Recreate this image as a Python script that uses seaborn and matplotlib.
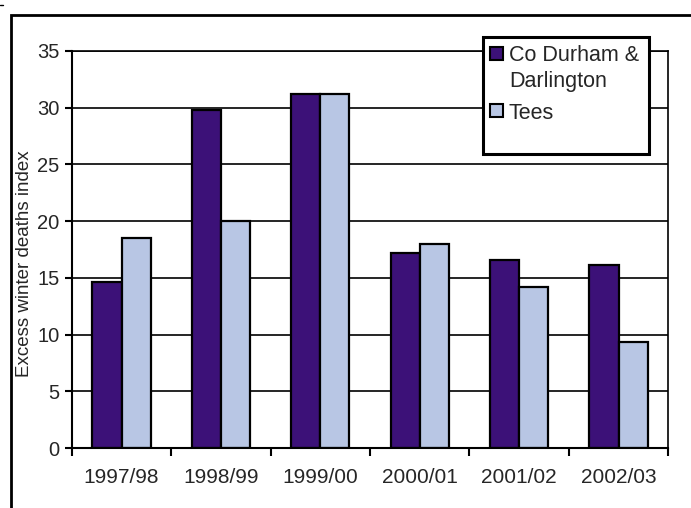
import matplotlib
matplotlib.use("Agg")
import matplotlib.pyplot as plt
from matplotlib.patches import Rectangle
from matplotlib.lines import Line2D
import seaborn as sns
import pandas as pd

seasons = ["1997/98", "1998/99", "1999/00", "2000/01", "2001/02", "2002/03"]
durham = [14.6, 29.8, 31.2, 17.2, 16.6, 16.1]
tees = [18.5, 20.0, 31.2, 18.0, 14.2, 9.3]
series_names = ["Co Durham &\nDarlington", "Tees"]
colors = ["#3C1178", "#B8C6E4"]

df = pd.DataFrame({
    "season": seasons * 2,
    "value": durham + tees,
    "area": [series_names[0]] * len(seasons) + [series_names[1]] * len(seasons),
})

sns.set_style("white")
plt.rcParams["font.family"] = ["Liberation Sans", "DejaVu Sans"]

fig = plt.figure(figsize=(6.91, 5.08), dpi=100)
ax = fig.add_axes([0.104, 0.118, 0.863, 0.782])

sns.barplot(data=df, x="season", y="value", hue="area", palette=colors,
            width=0.585, gap=0, edgecolor="black", linewidth=1.6,
            saturation=1, legend=False, ax=ax)

ax.set_ylim(0, 35)
ax.set_yticks(range(0, 36, 5))
ax.set_xlim(-0.5, len(seasons) - 0.5)
ax.yaxis.grid(True, color="black", linewidth=1.2)
ax.set_axisbelow(True)
for s in ax.spines.values():
    s.set_visible(True)
    s.set_color("black")
    s.set_linewidth(1.2)
ax.spines["left"].set_linewidth(1.5)
ax.spines["bottom"].set_linewidth(1.5)

# category ticks sit between groups, labels centred on groups
ax.set_xticks([i - 0.5 for i in range(len(seasons) + 1)], minor=False)
ax.set_xticklabels([""] * (len(seasons) + 1))
ax.set_xticks(range(len(seasons)), minor=True)
ax.set_xticklabels(seasons, minor=True)
ax.tick_params(axis="x", which="major", direction="out", length=6, width=1.5,
               color="black", bottom=True)
ax.tick_params(axis="x", which="minor", length=0, labelsize=15, pad=14)
ax.tick_params(axis="y", direction="out", length=5, width=1.5, color="black",
               left=True, labelsize=14.5, pad=4)
ax.set_xlabel("")
ax.set_ylabel("Excess winter deaths index", fontsize=13.5)
ax.yaxis.set_label_coords(-0.065, 0.463)

# legend: framed box with a swatch beside the first line of each entry
ax.add_patch(Rectangle((0.690, 0.741), 0.278, 0.294, transform=ax.transAxes,
                       facecolor="white", edgecolor="black", linewidth=2.2,
                       zorder=5, clip_on=False))
swatch_y = [0.977, 0.834]
line_y = [[0.975, 0.909], [0.829]]
for name, col, sy, ys in zip(series_names, colors, swatch_y, line_y):
    ax.add_patch(Rectangle((0.701, sy), 0.0218, 0.0327, transform=ax.transAxes,
                           facecolor=col, edgecolor="black", linewidth=1.5,
                           zorder=6, clip_on=False))
    for line, ty in zip(name.split("\n"), ys):
        ax.text(0.733, ty, line, transform=ax.transAxes, fontsize=15.5,
                va="baseline", ha="left", zorder=7)

# chart area border (open to the right and bottom edges)
fig.add_artist(Rectangle((0.016, -0.1), 1.1, 1.07, transform=fig.transFigure,
                         fill=False, edgecolor="black", linewidth=2))
fig.add_artist(Line2D([0.0, 0.005], [0.99, 0.99], transform=fig.transFigure,
                      color="black", linewidth=1))

fig.savefig("out.png", dpi=100)
